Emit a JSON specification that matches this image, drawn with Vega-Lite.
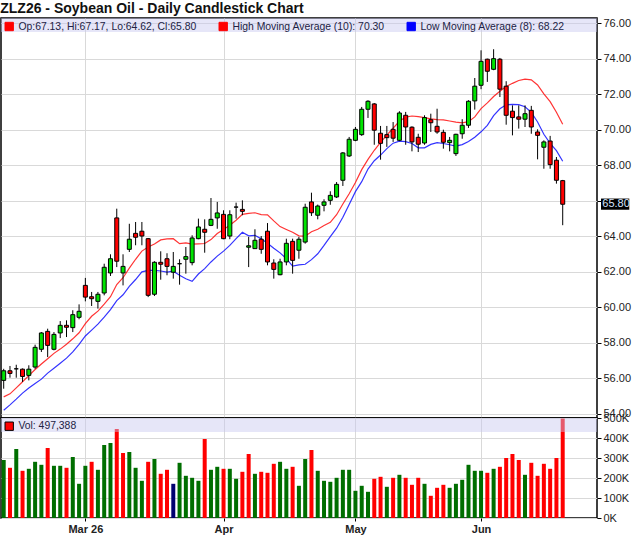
{
  "$schema": "https://vega.github.io/schema/vega-lite/v6.json",
  "description": "ZLZ26 soybean oil daily candlesticks with 10-day high and 8-day low moving averages, and daily volume.",
  "padding": {"left": 0, "top": 2, "right": 0, "bottom": 0},
  "bounds": "flush",
  "spacing": 0,
  "background": "white",
  "title": {
    "text": "ZLZ26 - Soybean Oil - Daily Candlestick Chart",
    "anchor": "start",
    "fontSize": 14,
    "fontWeight": "bold",
    "color": "#111111",
    "offset": 0
  },
  "config": {
    "font": "Liberation Sans",
    "view": {"stroke": "#000000", "strokeWidth": 1.5},
    "axis": {
      "gridColor": "#d9d9d9",
      "gridWidth": 1,
      "labelFontSize": 11,
      "labelColor": "#222222",
      "tickColor": "#000000",
      "labelOverlap": false,
      "domain": false
    }
  },
  "datasets": {
    "bars": [
      {"i": 0, "o": 55.88, "h": 56.53, "l": 55.41, "c": 56.42, "v": 290000, "hma": 54.95, "lma": 54.20},
      {"i": 1, "o": 56.42, "h": 56.69, "l": 56.03, "c": 56.27, "v": 251000, "hma": 55.12, "lma": 54.50},
      {"i": 2, "o": 56.53, "h": 56.76, "l": 56.03, "c": 56.53, "v": 345000, "hma": 55.46, "lma": 54.82},
      {"i": 3, "o": 56.51, "h": 56.55, "l": 55.79, "c": 56.10, "v": 236000, "hma": 55.80, "lma": 55.16},
      {"i": 4, "o": 56.16, "h": 56.73, "l": 55.88, "c": 56.51, "v": 246000, "hma": 56.15, "lma": 55.45},
      {"i": 5, "o": 56.63, "h": 57.89, "l": 56.53, "c": 57.74, "v": 281000, "hma": 56.49, "lma": 55.70},
      {"i": 6, "o": 57.63, "h": 58.60, "l": 57.48, "c": 58.55, "v": 266000, "hma": 56.80, "lma": 55.95},
      {"i": 7, "o": 58.64, "h": 58.79, "l": 57.19, "c": 57.85, "v": 350000, "hma": 57.10, "lma": 56.29},
      {"i": 8, "o": 57.63, "h": 58.60, "l": 57.57, "c": 58.47, "v": 261000, "hma": 57.40, "lma": 56.56},
      {"i": 9, "o": 58.55, "h": 59.22, "l": 58.26, "c": 58.98, "v": 261000, "hma": 57.64, "lma": 56.84},
      {"i": 10, "o": 58.98, "h": 59.26, "l": 58.32, "c": 58.87, "v": 251000, "hma": 57.91, "lma": 57.13},
      {"i": 11, "o": 58.85, "h": 59.83, "l": 58.60, "c": 59.58, "v": 305000, "hma": 58.22, "lma": 57.48},
      {"i": 12, "o": 59.43, "h": 60.16, "l": 59.32, "c": 59.77, "v": 171000, "hma": 58.56, "lma": 57.91},
      {"i": 13, "o": 61.23, "h": 61.65, "l": 60.33, "c": 60.57, "v": 261000, "hma": 59.07, "lma": 58.38},
      {"i": 14, "o": 60.59, "h": 60.86, "l": 60.07, "c": 60.48, "v": 281000, "hma": 59.49, "lma": 58.71},
      {"i": 15, "o": 60.33, "h": 60.86, "l": 59.92, "c": 60.73, "v": 241000, "hma": 59.78, "lma": 59.05},
      {"i": 16, "o": 60.80, "h": 62.45, "l": 60.67, "c": 62.25, "v": 365000, "hma": 60.17, "lma": 59.44},
      {"i": 17, "o": 61.93, "h": 62.98, "l": 61.76, "c": 62.73, "v": 375000, "hma": 60.59, "lma": 59.87},
      {"i": 18, "o": 65.03, "h": 65.55, "l": 62.26, "c": 62.59, "v": 445000, "hma": 61.28, "lma": 60.37},
      {"i": 19, "o": 61.93, "h": 62.98, "l": 61.23, "c": 62.30, "v": 325000, "hma": 61.66, "lma": 60.70},
      {"i": 20, "o": 63.26, "h": 64.70, "l": 63.11, "c": 63.83, "v": 330000, "hma": 62.20, "lma": 61.17},
      {"i": 21, "o": 64.16, "h": 64.80, "l": 63.49, "c": 63.94, "v": 251000, "hma": 62.70, "lma": 61.56},
      {"i": 22, "o": 64.28, "h": 64.80, "l": 63.49, "c": 64.01, "v": 186000, "hma": 63.16, "lma": 61.99},
      {"i": 23, "o": 63.86, "h": 63.90, "l": 60.57, "c": 60.67, "v": 281000, "hma": 63.39, "lma": 62.07},
      {"i": 24, "o": 60.73, "h": 62.59, "l": 60.63, "c": 62.53, "v": 295000, "hma": 63.56, "lma": 62.07},
      {"i": 25, "o": 62.53, "h": 63.15, "l": 61.55, "c": 62.42, "v": 221000, "hma": 63.79, "lma": 62.04},
      {"i": 26, "o": 62.73, "h": 63.04, "l": 61.80, "c": 62.30, "v": 241000, "hma": 63.85, "lma": 61.98},
      {"i": 27, "o": 61.97, "h": 63.11, "l": 61.61, "c": 62.30, "v": 171000, "hma": 63.86, "lma": 62.03},
      {"i": 28, "o": 62.45, "h": 62.70, "l": 61.27, "c": 62.45, "v": 276000, "hma": 63.58, "lma": 61.80},
      {"i": 29, "o": 62.70, "h": 63.39, "l": 61.89, "c": 62.85, "v": 211000, "hma": 63.62, "lma": 61.60},
      {"i": 30, "o": 62.51, "h": 64.05, "l": 62.36, "c": 63.90, "v": 201000, "hma": 63.55, "lma": 61.46},
      {"i": 31, "o": 63.86, "h": 64.99, "l": 63.83, "c": 64.52, "v": 186000, "hma": 63.57, "lma": 61.87},
      {"i": 32, "o": 64.39, "h": 64.95, "l": 63.07, "c": 64.22, "v": 395000, "hma": 63.59, "lma": 62.17},
      {"i": 33, "o": 64.61, "h": 66.15, "l": 64.57, "c": 64.95, "v": 241000, "hma": 63.81, "lma": 62.55},
      {"i": 34, "o": 65.03, "h": 65.93, "l": 64.42, "c": 65.31, "v": 256000, "hma": 64.15, "lma": 62.88},
      {"i": 35, "o": 65.23, "h": 65.46, "l": 63.83, "c": 63.86, "v": 246000, "hma": 64.38, "lma": 63.16},
      {"i": 36, "o": 64.01, "h": 65.46, "l": 63.83, "c": 65.21, "v": 246000, "hma": 64.62, "lma": 63.48},
      {"i": 37, "o": 65.64, "h": 65.89, "l": 64.99, "c": 65.64, "v": 196000, "hma": 64.90, "lma": 63.86},
      {"i": 38, "o": 65.51, "h": 66.02, "l": 65.18, "c": 65.40, "v": 231000, "hma": 65.23, "lma": 64.22},
      {"i": 39, "o": 63.38, "h": 63.96, "l": 62.26, "c": 63.46, "v": 320000, "hma": 65.29, "lma": 64.02},
      {"i": 40, "o": 63.30, "h": 64.39, "l": 63.30, "c": 63.77, "v": 221000, "hma": 65.32, "lma": 64.05},
      {"i": 41, "o": 63.83, "h": 64.01, "l": 63.01, "c": 63.26, "v": 231000, "hma": 65.22, "lma": 63.85},
      {"i": 42, "o": 64.28, "h": 64.74, "l": 62.36, "c": 62.55, "v": 226000, "hma": 65.20, "lma": 63.60},
      {"i": 43, "o": 62.49, "h": 62.70, "l": 61.61, "c": 62.13, "v": 271000, "hma": 64.86, "lma": 63.32},
      {"i": 44, "o": 61.83, "h": 62.73, "l": 61.80, "c": 62.55, "v": 281000, "hma": 64.54, "lma": 63.06},
      {"i": 45, "o": 62.55, "h": 63.86, "l": 62.36, "c": 63.60, "v": 246000, "hma": 64.38, "lma": 62.74},
      {"i": 46, "o": 63.71, "h": 63.86, "l": 61.89, "c": 62.64, "v": 256000, "hma": 64.22, "lma": 62.32},
      {"i": 47, "o": 63.21, "h": 63.96, "l": 62.73, "c": 63.83, "v": 161000, "hma": 64.02, "lma": 62.38},
      {"i": 48, "o": 63.67, "h": 65.83, "l": 63.58, "c": 65.63, "v": 295000, "hma": 64.00, "lma": 62.42},
      {"i": 49, "o": 65.93, "h": 66.45, "l": 65.14, "c": 65.32, "v": 340000, "hma": 64.25, "lma": 62.68},
      {"i": 50, "o": 65.18, "h": 65.78, "l": 64.95, "c": 65.70, "v": 236000, "hma": 64.39, "lma": 63.01},
      {"i": 51, "o": 65.74, "h": 66.08, "l": 65.40, "c": 65.93, "v": 186000, "hma": 64.60, "lma": 63.48},
      {"i": 52, "o": 66.02, "h": 66.53, "l": 65.77, "c": 66.30, "v": 181000, "hma": 64.78, "lma": 63.98},
      {"i": 53, "o": 66.21, "h": 67.05, "l": 66.15, "c": 66.92, "v": 201000, "hma": 65.21, "lma": 64.45},
      {"i": 54, "o": 67.15, "h": 68.74, "l": 66.83, "c": 68.69, "v": 241000, "hma": 65.81, "lma": 65.07},
      {"i": 55, "o": 68.52, "h": 69.59, "l": 68.46, "c": 69.46, "v": 241000, "hma": 66.39, "lma": 65.79},
      {"i": 56, "o": 69.40, "h": 70.15, "l": 69.35, "c": 70.02, "v": 136000, "hma": 67.02, "lma": 66.51},
      {"i": 57, "o": 69.72, "h": 71.28, "l": 69.65, "c": 71.15, "v": 161000, "hma": 67.75, "lma": 67.07},
      {"i": 58, "o": 71.15, "h": 71.66, "l": 70.66, "c": 71.60, "v": 131000, "hma": 68.33, "lma": 67.78},
      {"i": 59, "o": 71.45, "h": 71.50, "l": 69.15, "c": 69.97, "v": 196000, "hma": 68.84, "lma": 68.25},
      {"i": 60, "o": 69.80, "h": 70.21, "l": 68.31, "c": 69.23, "v": 206000, "hma": 69.28, "lma": 68.57},
      {"i": 61, "o": 69.72, "h": 70.21, "l": 69.03, "c": 69.55, "v": 156000, "hma": 69.69, "lma": 68.93},
      {"i": 62, "o": 70.02, "h": 70.43, "l": 69.31, "c": 69.52, "v": 201000, "hma": 70.08, "lma": 69.24},
      {"i": 63, "o": 69.40, "h": 71.04, "l": 69.35, "c": 70.94, "v": 216000, "hma": 70.48, "lma": 69.35},
      {"i": 64, "o": 70.81, "h": 71.00, "l": 69.15, "c": 70.15, "v": 201000, "hma": 70.71, "lma": 69.33},
      {"i": 65, "o": 70.14, "h": 70.19, "l": 68.78, "c": 69.31, "v": 166000, "hma": 70.77, "lma": 69.22},
      {"i": 66, "o": 69.57, "h": 69.77, "l": 68.74, "c": 69.18, "v": 201000, "hma": 70.73, "lma": 68.98},
      {"i": 67, "o": 69.25, "h": 70.81, "l": 69.15, "c": 70.68, "v": 171000, "hma": 70.68, "lma": 68.98},
      {"i": 68, "o": 70.56, "h": 70.90, "l": 69.87, "c": 70.39, "v": 111000, "hma": 70.61, "lma": 69.17},
      {"i": 69, "o": 70.19, "h": 71.18, "l": 69.77, "c": 69.87, "v": 151000, "hma": 70.57, "lma": 69.27},
      {"i": 70, "o": 69.85, "h": 70.00, "l": 68.93, "c": 69.29, "v": 166000, "hma": 70.55, "lma": 69.22},
      {"i": 71, "o": 69.27, "h": 69.59, "l": 68.78, "c": 69.40, "v": 151000, "hma": 70.49, "lma": 69.15},
      {"i": 72, "o": 68.65, "h": 69.77, "l": 68.52, "c": 69.74, "v": 171000, "hma": 70.43, "lma": 69.07},
      {"i": 73, "o": 69.77, "h": 70.59, "l": 69.49, "c": 70.25, "v": 191000, "hma": 70.38, "lma": 69.16},
      {"i": 74, "o": 70.25, "h": 71.66, "l": 70.10, "c": 71.60, "v": 266000, "hma": 70.45, "lma": 69.33},
      {"i": 75, "o": 71.62, "h": 72.91, "l": 71.13, "c": 72.45, "v": 236000, "hma": 70.72, "lma": 69.57},
      {"i": 76, "o": 72.50, "h": 74.47, "l": 72.28, "c": 73.85, "v": 236000, "hma": 71.19, "lma": 69.88},
      {"i": 77, "o": 73.97, "h": 74.00, "l": 72.69, "c": 73.29, "v": 226000, "hma": 71.51, "lma": 70.24},
      {"i": 78, "o": 73.40, "h": 74.53, "l": 73.35, "c": 74.00, "v": 246000, "hma": 71.87, "lma": 70.79},
      {"i": 79, "o": 73.97, "h": 74.04, "l": 71.84, "c": 72.28, "v": 256000, "hma": 72.16, "lma": 71.18},
      {"i": 80, "o": 72.45, "h": 72.73, "l": 70.28, "c": 70.81, "v": 300000, "hma": 72.43, "lma": 71.40},
      {"i": 81, "o": 71.04, "h": 71.37, "l": 69.68, "c": 70.68, "v": 320000, "hma": 72.61, "lma": 71.42},
      {"i": 82, "o": 70.72, "h": 71.37, "l": 70.06, "c": 70.59, "v": 290000, "hma": 72.77, "lma": 71.41},
      {"i": 83, "o": 70.59, "h": 71.37, "l": 70.15, "c": 70.90, "v": 216000, "hma": 72.85, "lma": 71.29},
      {"i": 84, "o": 71.09, "h": 71.34, "l": 69.77, "c": 70.15, "v": 276000, "hma": 72.81, "lma": 70.98},
      {"i": 85, "o": 69.87, "h": 70.02, "l": 68.33, "c": 69.68, "v": 211000, "hma": 72.52, "lma": 70.43},
      {"i": 86, "o": 69.01, "h": 69.40, "l": 67.80, "c": 69.31, "v": 271000, "hma": 72.02, "lma": 69.74},
      {"i": 87, "o": 69.36, "h": 69.65, "l": 67.80, "c": 68.03, "v": 246000, "hma": 71.58, "lma": 69.23},
      {"i": 88, "o": 68.28, "h": 68.46, "l": 66.96, "c": 67.15, "v": 300000, "hma": 70.98, "lma": 68.82},
      {"i": 89, "o": 67.13, "h": 67.17, "l": 64.62, "c": 65.80, "v": 497388, "hma": 70.30, "lma": 68.22}
    ]
  },
  "resolve": {"scale": {"color": "independent"}, "legend": {"color": "independent"}},
  "vconcat": [
    {
      "width": 596,
      "height": 400,
      "layer": [
        {
          "data": {"values": [{}]},
          "mark": {"type": "rect", "color": "#c8c8f0", "opacity": 0.45},
          "encoding": {
            "y": {
              "datum": 76.29,
              "type": "quantitative",
              "axis": {"orient": "right", "title": null, "values": [54, 56, 58, 60, 62, 64, 66, 68, 70, 72, 74, 76], "labelExpr": "datum.value == 66 ? '' : format(datum.value, '.2f')", "tickSize": 4, "labelPadding": 2, "labelOverlap": false, "labelFlush": false, "grid": true}
            },
            "y2": {"datum": 75.5}
          }
        },
        {
          "data": {"name": "bars"},
          "mark": {"type": "line", "strokeWidth": 1.2, "strokeOpacity": 0.8},
          "encoding": {
            "x": {
              "field": "i",
              "type": "quantitative",
              "scale": {"domain": [-0.43, 94.46], "nice": false, "zero": false, "padding": 0},
              "axis": {"values": [13, 35, 56, 76], "labels": false, "ticks": false, "title": null, "grid": true}
            },
            "y": {
              "field": "hma",
              "type": "quantitative",
              "scale": {"domain": [53.76, 76.29], "nice": false, "zero": false},
              "axis": {"orient": "right", "title": null, "values": [54, 56, 58, 60, 62, 64, 66, 68, 70, 72, 74, 76], "labelExpr": "datum.value == 66 ? '' : format(datum.value, '.2f')", "tickSize": 4, "labelPadding": 2, "labelOverlap": false, "labelFlush": false, "grid": true}
            },
            "color": {"datum": "High Moving Average (10): 70.30", "type": "nominal"}
          }
        },
        {
          "data": {"name": "bars"},
          "mark": {"type": "line", "strokeWidth": 1.2, "strokeOpacity": 0.8},
          "encoding": {
            "x": {"field": "i", "type": "quantitative"},
            "y": {
              "field": "lma",
              "type": "quantitative",
              "axis": {"orient": "right", "title": null, "values": [54, 56, 58, 60, 62, 64, 66, 68, 70, 72, 74, 76], "labelExpr": "datum.value == 66 ? '' : format(datum.value, '.2f')", "tickSize": 4, "labelPadding": 2, "labelOverlap": false, "labelFlush": false, "grid": true}
            },
            "color": {"datum": "Low Moving Average (8): 68.22", "type": "nominal"}
          }
        },
        {
          "data": {"name": "bars"},
          "mark": {"type": "rule", "color": "#000000", "strokeWidth": 1},
          "encoding": {
            "x": {"field": "i", "type": "quantitative"},
            "y": {
              "field": "l",
              "type": "quantitative",
              "axis": {"orient": "right", "title": null, "values": [54, 56, 58, 60, 62, 64, 66, 68, 70, 72, 74, 76], "labelExpr": "datum.value == 66 ? '' : format(datum.value, '.2f')", "tickSize": 4, "labelPadding": 2, "labelOverlap": false, "labelFlush": false, "grid": true}
            },
            "y2": {"field": "h"}
          }
        },
        {
          "data": {"name": "bars"},
          "mark": {"type": "bar", "size": 4, "stroke": "#000000", "strokeWidth": 1},
          "encoding": {
            "x": {"field": "i", "type": "quantitative"},
            "y": {
              "field": "o",
              "type": "quantitative",
              "axis": {"orient": "right", "title": null, "values": [54, 56, 58, 60, 62, 64, 66, 68, 70, 72, 74, 76], "labelExpr": "datum.value == 66 ? '' : format(datum.value, '.2f')", "tickSize": 4, "labelPadding": 2, "labelOverlap": false, "labelFlush": false, "grid": true}
            },
            "y2": {"field": "c"},
            "color": {
              "condition": {"test": "datum.c > datum.o", "value": "#00e400"},
              "datum": "Op:67.13, Hi:67.17, Lo:64.62, Cl:65.80",
              "type": "nominal",
              "scale": {
                "domain": ["Op:67.13, Hi:67.17, Lo:64.62, Cl:65.80", "High Moving Average (10): 70.30", "Low Moving Average (8): 68.22"],
                "range": ["#ff0000", "#ff0000", "#0000ff"]
              },
              "legend": {
                "title": null,
                "orient": "top-left",
                "direction": "horizontal",
                "offset": 3,
                "padding": 0,
                "symbolType": "square",
                "symbolSize": 70,
                "symbolStrokeColor": "#000000",
                "symbolStrokeWidth": 1,
                "symbolOpacity": 1,
                "labelFontSize": 10.4,
                "labelColor": "#222244",
                "labelOffset": 4,
                "labelLimit": 400,
                "columnPadding": 20
              }
            }
          }
        },
        {
          "data": {"values": [{"p": 65.8, "t": "65.80"}]},
          "mark": {"type": "rect", "color": "#000000"},
          "encoding": {
            "x": {"datum": 95.1, "type": "quantitative"},
            "x2": {"datum": 99.6},
            "y": {
              "datum": 66.12,
              "type": "quantitative",
              "axis": {"orient": "right", "title": null, "values": [54, 56, 58, 60, 62, 64, 66, 68, 70, 72, 74, 76], "labelExpr": "datum.value == 66 ? '' : format(datum.value, '.2f')", "tickSize": 4, "labelPadding": 2, "labelOverlap": false, "labelFlush": false, "grid": true}
            },
            "y2": {"datum": 65.49}
          }
        },
        {
          "data": {"values": [{"p": 65.8, "t": "65.80"}]},
          "mark": {"type": "text", "align": "left", "baseline": "middle", "fontSize": 11, "color": "#d6e6ff"},
          "encoding": {
            "x": {"datum": 95.3, "type": "quantitative"},
            "y": {
              "field": "p",
              "type": "quantitative",
              "axis": {"orient": "right", "title": null, "values": [54, 56, 58, 60, 62, 64, 66, 68, 70, 72, 74, 76], "labelExpr": "datum.value == 66 ? '' : format(datum.value, '.2f')", "tickSize": 4, "labelPadding": 2, "labelOverlap": false, "labelFlush": false, "grid": true}
            },
            "text": {"field": "t"}
          }
        }
      ]
    },
    {
      "width": 596,
      "height": 100,
      "layer": [
        {
          "data": {"name": "bars"},
          "transform": [
            {"window": [{"op": "lag", "field": "c", "as": "pc"}], "sort": [{"field": "i", "order": "ascending"}]}
          ],
          "mark": {"type": "bar", "size": 4},
          "encoding": {
            "x": {
              "field": "i",
              "type": "quantitative",
              "scale": {"domain": [-0.43, 94.46], "nice": false, "zero": false, "padding": 0},
              "axis": {
                "values": [13, 35, 56, 76],
                "labelExpr": "datum.value == 13 ? 'Mar 26' : datum.value == 35 ? 'Apr' : datum.value == 56 ? 'May' : 'Jun'",
                "labelFontWeight": "bold",
                "labelFlush": false,
                "tickSize": 3,
                "labelPadding": 2,
                "title": null,
                "grid": true
              }
            },
            "y": {
              "field": "v",
              "type": "quantitative",
              "scale": {"domain": [0, 500000], "nice": false},
              "axis": {"orient": "right", "title": null, "values": [0, 100000, 200000, 300000, 400000, 500000], "labelExpr": "datum.value / 1000 + 'K'", "tickSize": 4, "labelPadding": 2, "labelOverlap": false, "labelFlush": false, "grid": true}
            },
            "color": {
              "condition": [
                {"test": "datum.pc == null || datum.c > datum.pc", "value": "#006e00"},
                {"test": "datum.c == datum.pc", "value": "#000070"}
              ],
              "datum": "Vol: 497,388",
              "type": "nominal",
              "scale": {"domain": ["Vol: 497,388"], "range": ["#ff0000"]},
              "legend": {
                "title": null,
                "orient": "top-left",
                "offset": 3,
                "padding": 0,
                "symbolType": "square",
                "symbolSize": 70,
                "symbolStrokeColor": "#000000",
                "symbolStrokeWidth": 1,
                "labelFontSize": 10.4,
                "labelColor": "#222244",
                "labelOffset": 4
              }
            }
          }
        },
        {
          "data": {"values": [{}]},
          "mark": {"type": "rect", "color": "#c8c8f0", "opacity": 0.45},
          "encoding": {
            "y": {
              "datum": 500000,
              "type": "quantitative",
              "axis": {"orient": "right", "title": null, "values": [0, 100000, 200000, 300000, 400000, 500000], "labelExpr": "datum.value / 1000 + 'K'", "tickSize": 4, "labelPadding": 2, "labelOverlap": false, "labelFlush": false, "grid": true}
            },
            "y2": {"datum": 430000}
          }
        }
      ]
    }
  ]
}
